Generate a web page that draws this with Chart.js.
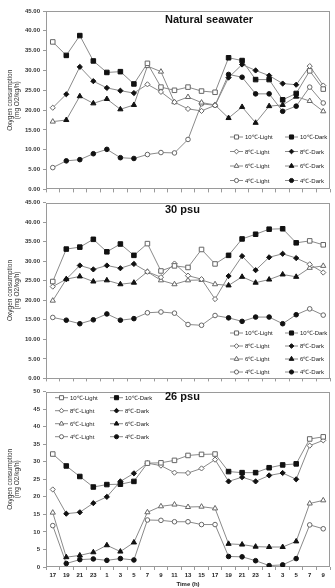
<!DOCTYPE html>
<html>
<head>
<meta charset="utf-8">
<script src="https://cdn.jsdelivr.net/npm/chart.js@4.4.0/dist/chart.umd.min.js"></script>
<style>
  html, body { margin: 0; padding: 0; background: #fff; }
  .panel { position: absolute; left: 0; width: 335px; }
</style>
</head>
<body>
<div class="panel" style="top:0"><canvas id="natural" width="335" height="196"></canvas></div>
<div class="panel" style="top:196px"><canvas id="psu30" width="335" height="189"></canvas></div>
<div class="panel" style="top:385px"><canvas id="psu26" width="335" height="203"></canvas></div>
<script>
// sampling times (h) and which of them fall in the light phase
const timeLabels = ['17','19','21','23','1','3','5','7','9','11','13','15','17','19','21','23','1','3','5','7','9'];
const lightPhase = [1,0,0,0,0,0,0,1,1,1,1,1,1,0,0,0,0,0,0,1,1];

// Natural seawater
const natural10 = [37.2, 33.8, 38.8, 32.4, 29.5, 29.7, 26.6, 31.8, 25.8, 25.0, 25.8, 24.8, 24.5, 33.2, 32.5, 27.7, 27.7, 22.6, 24.2, 29.9, 25.3];
const natural8  = [20.6, 24.0, 30.9, 27.3, 25.6, 24.9, 24.3, 26.5, 24.6, 22.0, 20.3, 19.8, 21.2, 28.2, 31.5, 30.0, 28.7, 26.7, 26.4, 31.1, 26.2];
const natural6  = [17.1, 17.5, 23.5, 21.7, 22.8, 20.2, 21.3, 31.1, 29.7, 22.0, 23.3, 21.9, 21.3, 18.0, 20.8, 16.8, 21.0, 21.3, 23.4, 22.3, 19.7];
const natural4  = [5.5, 7.2, 7.5, 9.0, 10.1, 8.0, 7.8, 8.8, 9.3, 9.2, 12.6, 21.6, 21.2, 29.0, 28.3, 24.1, 24.1, 19.7, 21.0, 25.8, 21.8];

// 30 psu
const psu30_10 = [24.8, 33.1, 33.6, 35.6, 32.4, 34.4, 31.5, 34.5, 27.5, 28.8, 28.4, 33.0, 29.3, 31.5, 35.7, 36.9, 38.2, 38.3, 34.7, 35.2, 34.2];
const psu30_8  = [23.5, 25.4, 28.9, 27.9, 28.9, 28.2, 29.3, 27.3, 25.9, 29.4, 26.3, 25.4, 20.3, 26.2, 31.3, 27.7, 31.0, 31.9, 30.8, 29.2, 27.1];
const psu30_6  = [19.9, 25.4, 26.1, 24.8, 25.1, 24.1, 24.5, 27.3, 25.1, 24.1, 25.1, 25.2, 24.1, 23.8, 26.0, 24.5, 25.3, 26.6, 26.0, 28.3, 28.8];
const psu30_4  = [15.6, 14.9, 14.0, 15.0, 16.5, 14.9, 15.3, 16.8, 17.0, 16.7, 13.8, 13.6, 16.1, 15.5, 14.6, 15.7, 15.7, 14.0, 16.3, 17.8, 16.2];

// 26 psu
const psu26_10 = [32.2, 28.8, 25.8, 22.8, 23.5, 23.6, 24.4, 29.6, 29.7, 30.4, 31.8, 32.1, 32.2, 27.2, 26.9, 26.9, 28.3, 29.1, 29.4, 36.5, 37.1];
const psu26_8  = [22.1, 15.2, 15.6, 18.2, 20.0, 24.4, 26.7, 29.6, 28.9, 26.9, 26.8, 28.1, 30.6, 24.4, 25.6, 24.4, 26.1, 26.8, 25.0, 34.6, 36.1];
const psu26_6  = [15.5, 2.8, 3.3, 4.2, 6.2, 4.4, 7.0, 15.6, 17.3, 17.8, 17.1, 17.2, 16.7, 6.6, 6.4, 5.8, 5.7, 5.7, 7.3, 18.1, 19.0];
const psu26_4  = [11.8, 1.0, 2.1, 2.3, 1.9, 2.4, 2.0, 13.4, 13.3, 12.9, 12.9, 12.1, 12.1, 3.0, 2.9, 1.8, 0.4, 0.6, 2.4, 12.0, 10.9];

const temps = [10, 8, 6, 4];
const markers = {
  10: { shape: 'rect', r: 3.2 },
  8: { shape: 'rectRot', r: 2.6 },
  6: { shape: 'triangle', r: 3 },
  4: { shape: 'circle', r: 2.3 }
};
const lineGray = '#8a8a8a';
const hollowEdge = '#666';
const darkFill = '#111';
const textFont = '"Liberation Sans", Arial, sans-serif';

function seriesSets(values, temp) {
  const m = markers[temp];
  return [{
    label: temp + '℃-Light',
    data: values,
    borderColor: lineGray,
    borderWidth: 1,
    pointStyle: m.shape,
    pointRadius: lightPhase.map(p => p ? m.r : 0),
    pointBackgroundColor: '#fff',
    pointBorderColor: hollowEdge,
    pointBorderWidth: 1,
    order: 1
  }, {
    label: temp + '℃-Dark',
    data: values.map((v, i) => lightPhase[i] ? null : v),
    showLine: false,
    pointStyle: m.shape,
    pointRadius: m.r,
    pointBackgroundColor: darkFill,
    pointBorderColor: darkFill,
    pointBorderWidth: 1,
    order: 0
  }];
}

// plot box, panel title and the in-plot legend
const panelDecor = {
  id: 'panelDecor',
  beforeDatasetsDraw(chart) {
    const { ctx, chartArea: a } = chart;
    ctx.save();
    ctx.strokeStyle = '#9a9a9a';
    ctx.lineWidth = 1;
    ctx.strokeRect(Math.round(a.left) + 0.5, Math.round(a.top) + 0.5,
      Math.round(a.right - a.left) - 1, Math.round(a.bottom - a.top) - 1);
    ctx.restore();
  },
  afterDatasetsDraw(chart, args, o) {
    const ctx = chart.ctx;
    ctx.save();
    ctx.fillStyle = '#111';
    ctx.font = 'bold 11px ' + textFont;
    ctx.textBaseline = 'middle';
    ctx.textAlign = 'left';
    ctx.fillText(o.title, o.titleX, o.titleY);

    ctx.font = '6px ' + textFont;
    temps.forEach((t, row) => {
      const y = o.legY + row * o.legDy;
      const m = markers[t];
      [[o.col1, 'Light'], [o.col2, 'Dark']].forEach(([x, phase]) => {
        ctx.strokeStyle = lineGray;
        ctx.lineWidth = 1;
        ctx.beginPath();
        ctx.moveTo(x, y);
        ctx.lineTo(x + 13, y);
        ctx.stroke();
        ctx.fillStyle = phase === 'Light' ? '#fff' : darkFill;
        ctx.strokeStyle = phase === 'Light' ? hollowEdge : darkFill;
        Chart.helpers.drawPoint(ctx, { pointStyle: m.shape, radius: m.r * 0.9, borderWidth: 1 }, x + 6.5, y);
        ctx.fillStyle = '#222';
        ctx.fillText(t + '℃-' + phase, x + 15, y + 0.5);
      });
    });
    ctx.restore();
  }
};

function makePanel(id, series, opt) {
  const datasets = [];
  series.forEach((vals, k) => datasets.push(...seriesSets(vals, temps[k])));
  return new Chart(document.getElementById(id), {
    type: 'line',
    data: { labels: timeLabels, datasets },
    plugins: [panelDecor],
    options: {
      responsive: false,
      animation: false,
      layout: { padding: { top: opt.padTop, right: 3, left: 0, bottom: 0 } },
      scales: {
        x: {
          offset: true,
          grid: { offset: true, drawOnChartArea: false, tickLength: 3, color: '#9a9a9a' },
          border: { display: false },
          ticks: {
            display: opt.showTime,
            autoSkip: false, maxRotation: 0, padding: 2,
            color: '#222',
            font: { family: textFont, size: 6, weight: 'bold' }
          },
          title: {
            display: opt.showTime,
            text: 'Time (h)',
            color: '#222',
            padding: 0,
            font: { family: textFont, size: 6, weight: 'bold' }
          },
          afterFit: s => { s.height = opt.xHeight; }
        },
        y: {
          min: 0,
          max: opt.yMax,
          grid: { drawOnChartArea: false, tickLength: 3, color: '#9a9a9a' },
          border: { display: false },
          ticks: {
            stepSize: 5,
            padding: 3,
            color: '#333',
            font: { family: textFont, size: 6, weight: 'bold' },
            callback: v => opt.decimals ? v.toFixed(2) : v
          },
          title: {
            display: true,
            text: ['Oxygen consumption', '(mg O2/kg/h)'],
            color: '#333',
            padding: { top: 6, bottom: 0 },
            font: { family: textFont, size: 6.5, lineHeight: 1.15 }
          },
          afterFit: s => { s.width = 46; }
        }
      },
      plugins: {
        legend: { display: false },
        tooltip: { enabled: false },
        panelDecor: opt.decor
      }
    }
  });
}

makePanel('natural', [natural10, natural8, natural6, natural4], {
  padTop: 11, xHeight: 5, yMax: 45, decimals: true, showTime: false,
  decor: { title: 'Natural seawater', titleX: 165, titleY: 20, col1: 230, col2: 285, legY: 137, legDy: 14.5 }
});
makePanel('psu30', [psu30_10, psu30_8, psu30_6, psu30_4], {
  padTop: 4, xHeight: 6, yMax: 45, decimals: true, showTime: false,
  decor: { title: '30 psu', titleX: 165, titleY: 14, col1: 230, col2: 285, legY: 137, legDy: 13 }
});
makePanel('psu26', [psu26_10, psu26_8, psu26_6, psu26_4], {
  padTop: 3, xHeight: 21, yMax: 50, decimals: false, showTime: true,
  decor: { title: '26 psu', titleX: 165, titleY: 12, col1: 55, col2: 110, legY: 12.7, legDy: 13 }
});
</script>
</body>
</html>
